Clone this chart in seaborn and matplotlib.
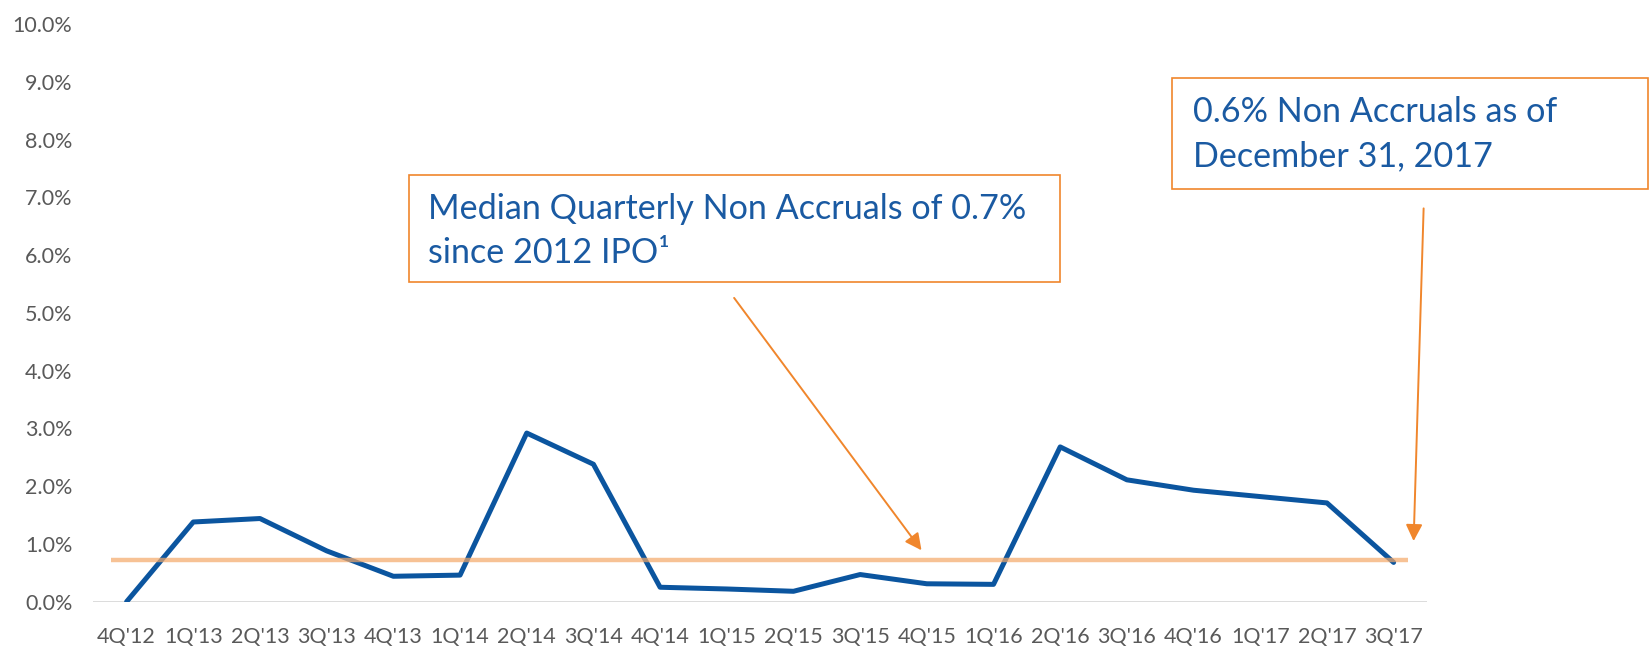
import matplotlib
matplotlib.use("Agg")
import pandas as pd
import matplotlib.pyplot as plt
import seaborn as sns
from matplotlib.patches import Rectangle

# data
quarters = ["4Q'12", "1Q'13", "2Q'13", "3Q'13", "4Q'13", "1Q'14", "2Q'14",
            "3Q'14", "4Q'14", "1Q'15", "2Q'15", "3Q'15", "4Q'15", "1Q'16",
            "2Q'16", "3Q'16", "4Q'16", "1Q'17", "2Q'17", "3Q'17"]
non_accruals = [0.00, 1.38, 1.44, 0.88, 0.44, 0.46, 2.92, 2.38, 0.25, 0.22,
                0.18, 0.47, 0.31, 0.30, 2.68, 2.11, 1.93, 1.82, 1.71, 0.68]
median_value = 0.72
y_ticks = list(range(0, 11))

median_text = "Median Quarterly Non Accruals of 0.7%\nsince 2012 IPO\u00b9"
latest_text = "0.6% Non Accruals as of\nDecember 31, 2017"

BLUE = "#0B559F"
TEXT_BLUE = "#1A5AA2"
ORANGE = "#F0862C"
PEACH = "#F5A868"
GREY = "#595959"

sns.set_theme(style="white")
plt.rcParams['font.family'] = ['Lato', 'DejaVu Sans']

df = pd.DataFrame({'quarter': quarters, 'rate': non_accruals})

fig = plt.figure(figsize=(16.51, 6.46), dpi=100)
ax = fig.add_axes([0.0565, 0.0686, 0.8078, 0.8940])

sns.lineplot(data=df, x='quarter', y='rate', ax=ax, color=BLUE,
             linewidth=3.6, sort=False, zorder=3)

# median line on top, semi transparent
ax.plot([-0.24, 19.21], [median_value, median_value], color=PEACH,
        linewidth=3.2, alpha=0.7, zorder=4, solid_capstyle='butt')
ax.axhline(0, color='#D9D9D9', linewidth=1.3, zorder=1)

ax.set_xlim(-0.5, 19.5)
ax.set_ylim(0, 10)
ax.set_yticks(y_ticks)
ax.set_yticklabels([f"{v:.1f}%" for v in y_ticks])
ax.set_xlabel('')
ax.set_ylabel('')
ax.tick_params(axis='y', length=0, pad=15, labelsize=15.5, labelcolor=GREY)
ax.tick_params(axis='x', length=0, pad=18, labelsize=15.5, labelcolor=GREY)
for s in ax.spines.values():
    s.set_visible(False)

# annotation boxes
fig.add_artist(Rectangle((0.2475, 0.5632), 0.3948, 0.1662, transform=fig.transFigure,
                         fill=False, edgecolor=ORANGE, linewidth=1.2))
fig.text(0.259, 0.6424, median_text, color=TEXT_BLUE, fontsize=24.6,
         va='center', ha='left', linespacing=1.48)

fig.add_artist(Rectangle((0.7100, 0.7067), 0.2880, 0.1727, transform=fig.transFigure,
                         fill=False, edgecolor=ORANGE, linewidth=1.2))
fig.text(0.7226, 0.7922, latest_text, color=TEXT_BLUE, fontsize=24.6,
         va='center', ha='left', linespacing=1.48)

# arrows
arrow = dict(arrowstyle='-|>', color=ORANGE, lw=1.4, mutation_scale=25,
             shrinkA=0, shrinkB=0)
ax.annotate('', xy=(11.92, 0.89), xytext=(9.11, 5.26), arrowprops=arrow)
ax.annotate('', xy=(19.30, 1.05), xytext=(19.45, 6.81), arrowprops=arrow,
            annotation_clip=False)

plt.savefig('out.png', dpi=100)
plt.close()
